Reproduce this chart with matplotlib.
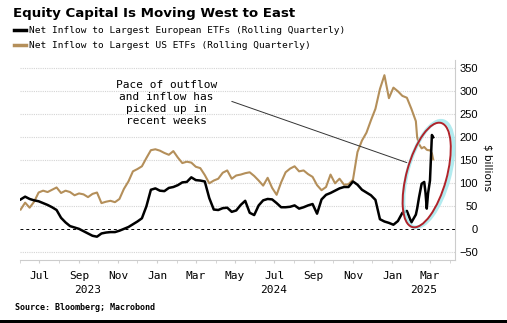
import numpy as np
import pandas as pd
import matplotlib
matplotlib.use('Agg')
import matplotlib.pyplot as plt
import matplotlib.dates as mdates
from matplotlib.patches import Ellipse, Rectangle
from matplotlib.lines import Line2D

# weekly readings, Jun 2023 -> early Feb 2025
weeks = pd.date_range('2023-06-02', periods=89, freq='7D')
eu_weekly = [65, 71, 66, 63, 61, 57, 53, 48, 42, 25, 15, 7, 4, 1, -4, -9, -14, -16, -9, -7,
             -6, -6, -3, 1, 5, 11, 17, 24, 50, 86, 89, 84, 83, 90, 92, 96, 102, 103, 113, 107,
             106, 104, 68, 43, 42, 46, 47, 38, 41, 53, 62, 36, 31, 52, 63, 66, 65, 57, 48, 48,
             49, 52, 45, 48, 52, 55, 34, 65, 75, 79, 84, 89, 92, 92, 104, 97, 86, 80, 74, 64,
             22, 17, 14, 10, 18, 36, 40, 15, 32]
us_weekly = [43, 58, 47, 60, 80, 84, 81, 86, 91, 79, 84, 81, 74, 78, 76, 70, 77, 80, 57, 60,
             62, 59, 66, 88, 104, 126, 131, 137, 155, 172, 174, 171, 166, 162, 170, 156, 144, 147, 145, 136,
             133, 118, 100, 106, 110, 123, 128, 110, 117, 119, 122, 124, 116, 106, 95, 112, 90, 75, 102, 124,
             132, 137, 126, 128, 120, 114, 96, 85, 92, 119, 100, 110, 97, 98, 108, 168, 193, 210, 237, 262,
             305, 335, 285, 308, 300, 290, 286, 262, 235]

# last few weeks read at finer spacing
tail_dates = pd.to_datetime(['2025-02-09', '2025-02-12', '2025-02-16', '2025-02-20', '2025-02-22',
                             '2025-02-24', '2025-02-26', '2025-03-01', '2025-03-04', '2025-03-06'])
eu_tail = [45, 70, 99, 103, 80, 45, 78, 106, 205, 200]
us_tail = [200, 185, 176, 179, 176, 173, 172, 172, 165, 152]

dates = weeks.append(tail_dates)
eu = eu_weekly + eu_tail
us = us_weekly + us_tail

yticks = [-50, 0, 50, 100, 150, 200, 250, 300, 350]
years = [('2023', '2023-09-15'), ('2024', '2024-07-01'), ('2025', '2025-02-19')]

gold = '#b48f5a'
mono = 'DejaVu Sans Mono'

fig = plt.figure(figsize=(5.07, 3.23), dpi=100)
ax = fig.add_axes([20/507, (323-259.7)/323, 435/507, (259.7-60)/323])

ax.plot(dates, us, color=gold, lw=1.5, zorder=3)
ax.plot(dates, eu, color='black', lw=1.8, zorder=4)

ax.set_xlim(pd.Timestamp('2023-06-01'), pd.Timestamp('2025-04-09'))
ax.set_ylim(-66, 368)

for v in yticks:
    if v == 0:
        ax.axhline(0, color='black', lw=0.7, ls=(0, (3, 3)), zorder=2)
    else:
        ax.axhline(v, color='#d4d4d4', lw=0.8, ls=(0, (1, 1)), zorder=1)

ax.yaxis.tick_right()
ax.set_yticks(yticks)
ax.tick_params(axis='y', length=0, pad=16.5, labelsize=8)
for lab in ax.get_yticklabels():
    lab.set_horizontalalignment('right')
    lab.set_fontfamily('Liberation Sans')
ax.text(1.075, 0.46, '$ billions', transform=ax.transAxes, rotation=-90,
        ha='center', va='center', fontsize=7.5)

ax.xaxis.set_major_locator(mdates.MonthLocator(bymonth=[1, 3, 5, 7, 9, 11]))
ax.xaxis.set_major_formatter(mdates.DateFormatter('%b'))
ax.xaxis.set_minor_locator(mdates.MonthLocator())
ax.tick_params(axis='x', which='both', length=2, color='#cfcfcf', pad=6, labelsize=8)
for lab in ax.get_xticklabels():
    lab.set_fontfamily(mono)
for yr, d in years:
    ax.text(pd.Timestamp(d), -0.15, yr, transform=ax.get_xaxis_transform(),
            ha='center', va='center', fontsize=8, family=mono)

for s in ['top', 'left']:
    ax.spines[s].set_visible(False)
for s in ['bottom', 'right']:
    ax.spines[s].set_color('#cccccc')
    ax.spines[s].set_linewidth(0.8)

# annotation
ax.text(pd.Timestamp('2024-01-15'), 275, 'Pace of outflow\nand inflow has\npicked up in\nrecent weeks',
        ha='center', va='center', fontsize=8, family=mono, linespacing=1.25)
ax.annotate('', xy=(pd.Timestamp('2025-01-28'), 143), xytext=(pd.Timestamp('2024-04-22'), 280),
            arrowprops=dict(arrowstyle='-', color='#333333', lw=0.7))

glow = Ellipse((4.285, 1.49), 1.10, 0.42, angle=74.5, transform=fig.dpi_scale_trans,
               fill=False, edgecolor='#9fe6ec', lw=2.6, alpha=0.8, zorder=5)
ring = Ellipse((4.267, 1.48), 1.08, 0.40, angle=74.5, transform=fig.dpi_scale_trans,
               fill=False, edgecolor='#b0232a', lw=1.4, zorder=6)
fig.patches.extend([glow, ring])

# title, legend, source
fig.text(13/507, 1 - 13/323, 'Equity Capital Is Moving West to East', fontsize=9.6,
         fontweight='bold', va='center', ha='left')
handles = [Line2D([], [], color='black', lw=2.5), Line2D([], [], color=gold, lw=2.5)]
labels = ['Net Inflow to Largest European ETFs (Rolling Quarterly)',
          'Net Inflow to Largest US ETFs (Rolling Quarterly)']
fig.legend(handles, labels, loc='upper left', bbox_to_anchor=(14/507, 1 - 26/323), frameon=False,
           prop={'family': mono, 'size': 6.8}, handlelength=1.3, handletextpad=0.25,
           labelspacing=0.66, borderpad=0, borderaxespad=0)
fig.text(15/507, 1 - 308/323, 'Source: Bloomberg; Macrobond', fontsize=6, family=mono,
         fontweight='bold', va='center', ha='left')

fig.patches.append(Rectangle((0, 0), 1, 3/323, transform=fig.transFigure,
                             facecolor='black', edgecolor='none'))

fig.savefig('out.png', dpi=100)
